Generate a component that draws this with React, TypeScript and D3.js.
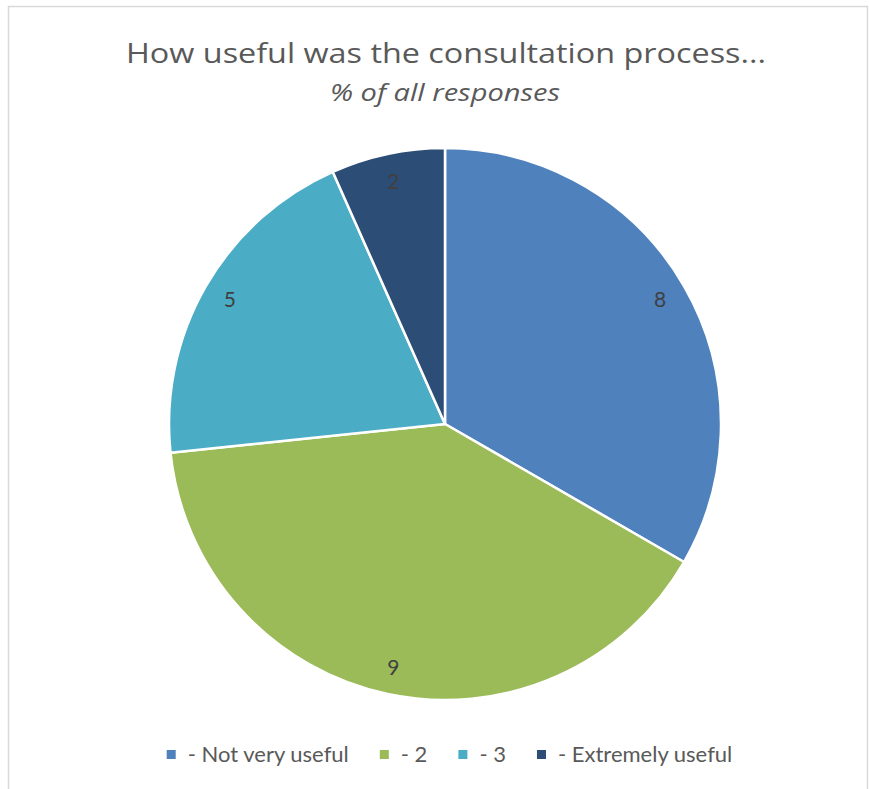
import React, { useEffect, useRef } from "react";
import * as d3 from "d3";

const categories = ["- Not very useful", "- 2", "- 3", "- Extremely useful"];
const shares = [10, 12, 6, 2];
const labels = ["8", "9", "5", "2"];
const colors = ["#4F81BD", "#9BBB59", "#4BACC6", "#2C4D75"];
const title = "How useful was the consultation process...";
const subtitle = "% of all responses";

const W = 869;
const H = 789;

export default function App() {
  const ref = useRef<SVGSVGElement | null>(null);

  useEffect(() => {
    const svg = d3.select(ref.current);
    svg.selectAll("*").remove();

    svg
      .append("rect")
      .attr("x", 8.5)
      .attr("y", 6.5)
      .attr("width", 859)
      .attr("height", 800)
      .attr("fill", "#ffffff")
      .attr("stroke", "#d9d9d9")
      .attr("stroke-width", 1.5);

    svg
      .append("text")
      .attr("x", 446)
      .attr("y", 63)
      .attr("text-anchor", "middle")
      .attr("font-family", "'Open Sans', Lato, sans-serif")
      .attr("font-size", 28)
      .attr("fill", "#595959")
      .attr("textLength", 640)
      .attr("lengthAdjust", "spacingAndGlyphs")
      .text(title);

    svg
      .append("text")
      .attr("x", 445)
      .attr("y", 101)
      .attr("text-anchor", "middle")
      .attr("font-family", "'Open Sans', Lato, sans-serif")
      .attr("font-style", "italic")
      .attr("font-size", 23)
      .attr("fill", "#595959")
      .attr("textLength", 230)
      .attr("lengthAdjust", "spacingAndGlyphs")
      .text(subtitle);

    const cx = 445;
    const cy = 424;
    const r = 276;

    const pie = d3
      .pie<number>()
      .sort(null)
      .value((d) => d);
    const arcs = pie(shares);
    const arc = d3.arc<d3.PieArcDatum<number>>().innerRadius(0).outerRadius(r);
    const labelArc = d3
      .arc<d3.PieArcDatum<number>>()
      .innerRadius(r * 0.9)
      .outerRadius(r * 0.9);

    const g = svg.append("g").attr("transform", `translate(${cx},${cy})`);
    g.selectAll("path")
      .data(arcs)
      .join("path")
      .attr("d", arc)
      .attr("fill", (_d, i) => colors[i])
      .attr("stroke", "#ffffff")
      .attr("stroke-width", 2.5)
      .attr("stroke-linejoin", "round");

    g.selectAll("text.lbl")
      .data(arcs)
      .join("text")
      .attr("class", "lbl")
      .attr("transform", (d) => `translate(${labelArc.centroid(d)})`)
      .attr("text-anchor", "middle")
      .attr("dy", "0.36em")
      .attr("font-family", "Lato, 'Open Sans', sans-serif")
      .attr("font-size", 21)
      .attr("fill", "#404040")
      .text((_d, i) => labels[i]);

    // legend
    const leg = svg.append("g");
    const fontSize = 22;
    const items = leg
      .selectAll("g.item")
      .data(categories)
      .join("g")
      .attr("class", "item");
    items
      .append("rect")
      .attr("width", 9)
      .attr("height", 9)
      .attr("y", 750)
      .attr("fill", (_d, i) => colors[i]);
    items
      .append("text")
      .attr("x", 21)
      .attr("y", 762)
      .attr("font-family", "Lato, 'Open Sans', sans-serif")
      .attr("font-size", fontSize)
      .attr("fill", "#595959")
      .text((d) => d);
    const widths: number[] = [];
    items.select("text").each(function () {
      widths.push((this as SVGTextElement).getComputedTextLength());
    });
    const gap = 31;
    const total =
      widths.reduce((a, b) => a + b + 21, 0) + gap * (widths.length - 1);
    let x = 449.5 - total / 2;
    items.attr("transform", (_d, i) => {
      const t = `translate(${x},0)`;
      x += 21 + widths[i] + gap;
      return t;
    });
  }, []);

  return (
    <svg
      ref={ref}
      width={W}
      height={H}
      style={{ position: "absolute", left: 0, top: 0, background: "#fff" }}
    />
  );
}
